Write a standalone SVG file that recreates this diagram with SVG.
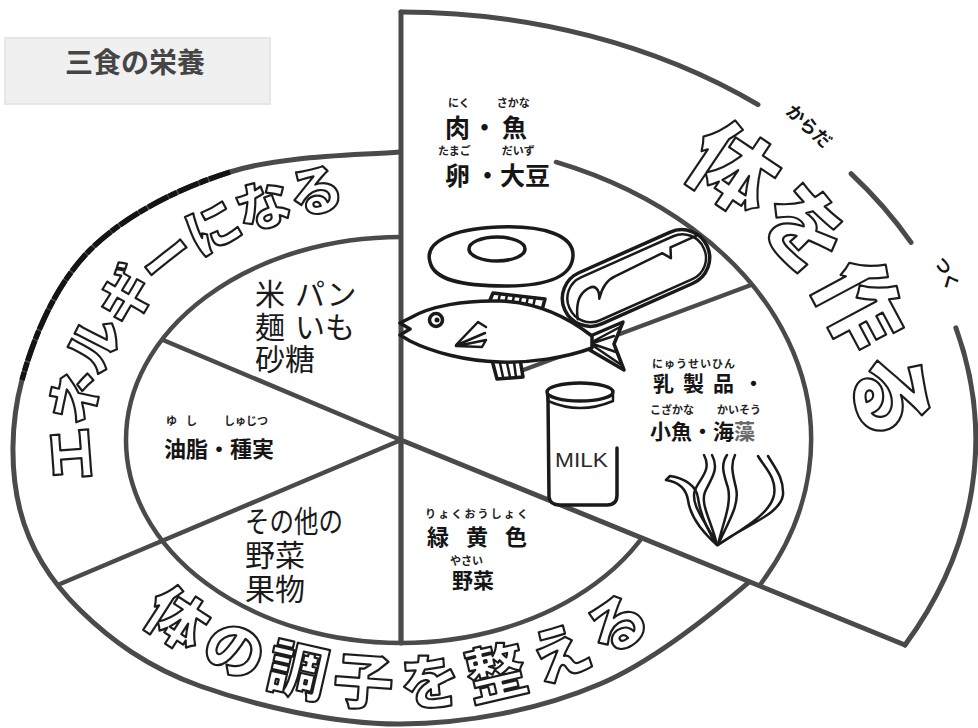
<svg xmlns="http://www.w3.org/2000/svg" width="978" height="728" viewBox="0 0 978 728">
<style>
.ln{fill:none;stroke:#4a4a4a;stroke-width:5;stroke-linecap:round}
.ln2{fill:none;stroke:#4a4a4a;stroke-width:4.5;stroke-linecap:round}
.big{font-family:"Noto Sans CJK JP",sans-serif;font-weight:900;fill:#fff;stroke:#1c1c1c;stroke-width:2.2;stroke-linejoin:round}
.lab{font-family:"Noto Sans CJK JP",sans-serif;font-weight:700;fill:#151515}
.rb{font-family:"Noto Sans CJK JP",sans-serif;font-weight:700;fill:#222;font-size:11px}
.reg{font-family:"Noto Sans CJK JP",sans-serif;font-weight:400;fill:#1a1a1a;font-size:30px}
.draw{fill:#fff;stroke:#1a1a1a;stroke-width:3.5;stroke-linejoin:round;stroke-linecap:round}
.thin{fill:none;stroke:#1a1a1a;stroke-width:2.5;stroke-linecap:round;stroke-linejoin:round}
</style>
<defs>
<path id="pE" d="M131.7,559 A311,238 0 0 1 455,205.6"/>
<path id="pP" d="M559,126.1 A462,334 0 0 1 849.3,520.8"/>
<path id="pB" d="M52.4,486 A354,265 0 0 0 749.6,486"/>
</defs>
<rect width="978" height="728" fill="#fff"/>

<!-- title plate -->
<g id="title">
<rect x="5" y="38" width="265" height="66" fill="#f0f0f0" stroke="#e6e6e6" stroke-width="2"/>
<text x="65" y="73" font-family="Noto Sans CJK JP,sans-serif" font-size="28" font-weight="700" fill="#454545">三食の栄養</text>
</g>

<!-- base pie: energy and regulating sectors -->
<g id="base-pie">
<path class="ln" d="M400,152 C351.7,155.7 281.7,155.7 230,172 C178.3,188.3 124.7,215.3 90,250 C55.3,284.7 33.7,336.7 22,380 C10.3,423.3 10.3,471.7 20,510 C29.7,548.3 50,580.7 80,610 C110,639.3 146.7,667 200,686 C253.3,705 333.3,724.3 400,724 C466.7,723.7 539.2,710 600,684 C660.8,658 726.7,602 765,568"/>
<path d="M230,172 C178.3,188.3 124.7,215.3 90,250 C55.3,284.7 33.7,336.7 22,380" fill="none" stroke="#141414" stroke-width="5.5" stroke-dasharray="22 1.5 9 1"/>
<ellipse class="ln2" cx="401" cy="440" rx="275" ry="203"/>
</g>

<g id="connectors">
<line class="ln2" x1="401" y1="440" x2="163" y2="340"/>
<line class="ln2" x1="401" y1="440" x2="60" y2="584"/>
<line class="ln2" x1="401" y1="440" x2="401" y2="643"/>
</g>

<g id="energy">
<text class="big" font-size="54" letter-spacing="-2"><textPath href="#pE" startOffset="48.2%" text-anchor="middle">エネルギーになる</textPath></text>
<text class="reg" x="255" y="305">米</text>
<text class="reg" x="295" y="305">パン</text>
<text class="reg" x="255" y="338">麺</text>
<text class="reg" x="295" y="338">いも</text>
<text class="reg" x="255" y="370">砂糖</text>
<text class="rb" font-size="10.5" x="166" y="425"><tspan>ゆ</tspan><tspan dx="9">し</tspan><tspan dx="27">しゅじつ</tspan></text>
<text class="lab" font-size="22" x="164" y="457">油脂・種実</text>
</g>

<g id="regulate">
<text class="big" font-size="60" letter-spacing="10"><textPath href="#pB" startOffset="50%" text-anchor="middle">体の調子を整える</textPath></text>
<text class="reg" x="245" y="532" textLength="98" lengthAdjust="spacingAndGlyphs">その他の</text>
<text class="reg" x="245" y="566">野菜</text>
<text class="reg" x="245" y="600">果物</text>
<text class="rb" font-size="12.5" x="425" y="518" textLength="103">りょくおうしょく</text>
<text class="lab" font-size="22" x="427" y="545" letter-spacing="17">緑黄色</text>
<text class="rb" x="450" y="565">やさい</text>
<text class="lab" font-size="21" x="452" y="588">野菜</text>
</g>

<!-- body-building wedge, drawn on top -->
<g id="build">
<path d="M401,440 L401,12 A575,428 0 0 1 905,645 Z" fill="#fff"/>
<line class="ln" x1="401" y1="12" x2="401" y2="643"/>
<line class="ln" x1="401" y1="440" x2="905" y2="645"/>
<path class="ln" stroke-width="6" d="M401,12 A575,428 0 0 1 758,104.6"/>
<path class="ln" stroke-width="6" d="M851,173.6 A575,428 0 0 1 911,242.4"/>
<path class="ln" stroke-width="6" d="M955.9,327.8 A575,428 0 0 1 905,645"/>
<path class="ln2" d="M556,162 A410,300 0 0 1 759.5,585.5"/>
<line class="ln2" x1="510" y1="375" x2="751" y2="285"/>
<text class="big" font-size="86"><textPath href="#pP" startOffset="54.5%" text-anchor="middle">体を作る</textPath></text>
<text class="lab" font-size="18" font-weight="900" transform="translate(810,125) rotate(43)" text-anchor="middle" dominant-baseline="central">からだ</text>
<text class="lab" font-size="17" font-weight="900" transform="translate(948,273) rotate(65)" text-anchor="middle" dominant-baseline="central">つく</text>
<text class="rb" x="448" y="107"><tspan>にく</tspan><tspan dx="27">さかな</tspan></text>
<text class="lab" font-size="25" x="445" y="137"><tspan>肉</tspan><tspan dx="2">・</tspan><tspan dx="5">魚</tspan></text>
<text class="rb" x="438" y="155"><tspan>たまご</tspan><tspan dx="31">だいず</tspan></text>
<text class="lab" font-size="25" x="445" y="185"><tspan>卵</tspan><tspan dx="5">・</tspan><tspan dx="0">大豆</tspan></text>
<text class="rb" font-size="11.5" x="652" y="368" textLength="83">にゅうせいひん</text>
<text class="lab" font-size="21" x="653" y="391" letter-spacing="9">乳製品・</text>
<text class="rb" x="650" y="414"><tspan>こざかな</tspan><tspan dx="23">かいそう</tspan></text>
<text class="lab" font-size="21" x="650" y="439"><tspan>小魚・海</tspan><tspan fill="#6a6a6a">藻</tspan></text>
</g>

<g id="egg">
<path class="draw" stroke-width="3" d="M430,262 C424,242 452,229 498,227 C545,225 574,236 573,256 C572,276 548,286 505,286 C462,286 434,280 430,262 Z"/>
<ellipse class="draw" cx="497" cy="249" rx="28" ry="12"/>
</g>

<g id="meat">
<g transform="translate(636,278) rotate(-24)">
<rect class="draw" x="-78" y="-28" width="156" height="56" rx="28" stroke-width="4"/>
<rect x="-73" y="-23" width="147" height="47" rx="23" class="thin"/>
<path class="thin" stroke-width="3" d="M-70,14 C-66,0 -58,-10 -46,-10 C-40,-10 -38,-4 -42,4 C-36,-4 -28,-10 -18,-10 L34,-12 L40,-4 L44,-14 L72,-14"/>
</g>
</g>

<g id="fish">
<path class="draw" stroke-width="3" d="M488,305 L493,293 L545,299 L542,310 Z"/>
<path class="thin" stroke-width="2" d="M498,303 L500,294 M505,304 L507,295 M512,305 L514,296 M519,305 L521,297 M526,306 L528,297 M533,307 L535,298"/>
<path class="draw" stroke-width="3" d="M492,360 L497,379 L523,377 L520,359 Z"/>
<path class="thin" stroke-width="2" d="M500,363 L503,377 M507,363 L510,377 M514,362 L516,377"/>
<path class="draw" stroke-width="3" d="M588,337 L623,322 L614,344 L624,370 L588,349 Z"/>
<path class="thin" stroke-width="2" d="M592,342 L620,327 M593,343 L614,336 M593,344 L616,352 M592,345 L620,364"/>
<path class="draw" stroke-width="3" d="M410,318 C430,306 465,300 500,301 C535,302 565,315 592,336 L592,348 C565,358 530,363 500,362 C465,361 432,352 410,341 L400,335 L410,329 L400,323 Z"/>
<circle class="draw" cx="436" cy="320" r="6.5" stroke-width="3"/>
<circle cx="437" cy="320" r="2.5" fill="#1a1a1a"/>
<path class="thin" d="M456,345 L478,322 L486,327 M457,345 L485,333 M457,346 L486,340 M456,346 L482,347 L486,340"/>
</g>

<g id="milk">
<path d="M548,395 L548,497 Q548,505 558,505 L608,505 Q617,505 617,497 L617,395 Z" fill="#fff"/>
<path fill="none" stroke="#1a1a1a" stroke-width="3.5" stroke-linecap="round" d="M548,398 L549,497 Q550,505 560,505 L607,505 Q617,505 617,495 L617,448"/>
<path class="thin" stroke-width="3" d="M547,394 L548,401 Q580,415 613,401 L613,394"/>
<ellipse class="draw" cx="580" cy="392" rx="33" ry="9"/>
<text x="555" y="467" font-family="Liberation Sans,Arial,sans-serif" font-size="21" fill="#2a2a2a" textLength="53" lengthAdjust="spacingAndGlyphs">MILK</text>
</g>

<g id="seaweed">
<path class="thin" d="M717,545 C700,530 690,515 688,500 C686,488 678,482 666,480 L670,476 C684,478 697,486 698,498 C700,512 706,528 717,545"/>
<path class="thin" d="M717,545 C705,520 690,505 695,490 C700,478 712,470 704,455 M717,545 C712,522 700,505 705,492 C710,480 720,470 712,455"/>
<path class="thin" d="M718,545 C722,525 732,505 728,488 C724,475 720,465 727,455 M718,545 C728,522 740,505 736,488 C733,475 730,465 735,455"/>
<path class="thin" d="M718,545 C740,530 770,515 774,495 C777,478 765,468 758,456 M718,545 C745,525 780,515 783,495 C784,478 775,468 768,456"/>
</g>
</svg>
